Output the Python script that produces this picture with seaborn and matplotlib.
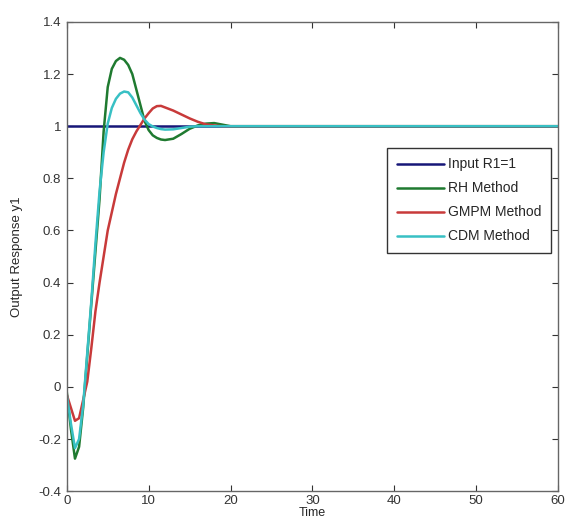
import matplotlib
matplotlib.use("Agg")
import matplotlib.pyplot as plt
import matplotlib.ticker as mticker
import numpy as np
import pandas as pd
import seaborn as sns

# time samples
time = [0, 0.5, 1, 1.5, 2, 2.5, 3, 3.5, 4, 4.5, 5, 5.5, 6, 6.5, 7, 7.5, 8, 8.5, 9, 9.5,
        10, 10.5, 11, 11.5, 12, 13, 14, 15, 16, 17, 18, 19, 20, 25, 30, 40, 50, 60]

input_r1 = [1.0] * len(time)

rh_method = [-0.02, -0.16, -0.275, -0.23, -0.08, 0.12, 0.32, 0.52, 0.72, 0.98, 1.15, 1.22, 1.25, 1.262,
             1.255, 1.235, 1.2, 1.14, 1.08, 1.02, 0.985, 0.965, 0.955, 0.949, 0.947, 0.952, 0.97,
             0.99, 1.003, 1.01, 1.012, 1.006, 1.0, 1.0, 1.0, 1.0, 1.0, 1.0]

gmpm_method = [-0.03, -0.08, -0.13, -0.12, -0.05, 0.02, 0.15, 0.29, 0.4, 0.5, 0.6, 0.67, 0.74, 0.8,
               0.86, 0.91, 0.95, 0.98, 1.005, 1.03, 1.05, 1.068, 1.077, 1.078, 1.072, 1.06, 1.045,
               1.03, 1.017, 1.007, 1.003, 1.0, 1.0, 1.0, 1.0, 1.0, 1.0, 1.0]

cdm_method = [-0.03, -0.14, -0.235, -0.2, -0.07, 0.13, 0.33, 0.55, 0.75, 0.9, 1.01, 1.07, 1.105, 1.125,
              1.133, 1.13, 1.11, 1.08, 1.05, 1.025, 1.008, 0.999, 0.993, 0.989, 0.987, 0.988, 0.993,
              0.998, 1.0, 1.0, 1.0, 1.0, 1.0, 1.0, 1.0, 1.0, 1.0, 1.0]

labels = ["Input R1=1", "RH Method", "GMPM Method", "CDM Method"]
colors = ["#161678", "#1f7a30", "#c83a3a", "#38c0c4"]

frames = []
for lab, vals in zip(labels, [input_r1, rh_method, gmpm_method, cdm_method]):
    frames.append(pd.DataFrame({"Time": time, "y": vals, "series": lab}))
df = pd.concat(frames, ignore_index=True)

sns.set_style("white")
plt.rcParams["font.family"] = ["Liberation Sans", "DejaVu Sans"]

fig = plt.figure(figsize=(5.66, 5.22), dpi=100)
ax = fig.add_axes([0.118, 0.059, 0.868, 0.899])

sns.lineplot(data=df, x="Time", y="y", hue="series", hue_order=labels,
             palette=dict(zip(labels, colors)), linewidth=1.8, ax=ax, sort=False)

ax.set_xlim(0, 60)
ax.set_ylim(-0.4, 1.4)
ax.set_xticks(np.arange(0, 61, 10))
ax.set_yticks(np.arange(-0.4, 1.41, 0.2))
ax.yaxis.set_major_formatter(mticker.FuncFormatter(lambda v, p: f"{round(v, 1):g}"))
ax.set_xlabel("Time", fontsize=9, labelpad=0)
ax.set_ylabel("Output Response y1", fontsize=9.5, labelpad=11)
ax.tick_params(direction="in", length=4, labelsize=9.5, colors="#333333",
               top=True, right=True, bottom=True, left=True, pad=4)
ax.tick_params(axis="x", pad=3)
for s in ax.spines.values():
    s.set_color("#666666")
    s.set_linewidth(1.0)

leg = ax.legend(loc="upper left", bbox_to_anchor=(0.652, 0.732), borderaxespad=0, fontsize=10,
                handlelength=3.4, fancybox=False, framealpha=1, edgecolor="#333333",
                borderpad=0.7, labelspacing=0.72, handletextpad=0.3)
leg.get_frame().set_linewidth(1.0)

fig.savefig("out.png", dpi=100)
